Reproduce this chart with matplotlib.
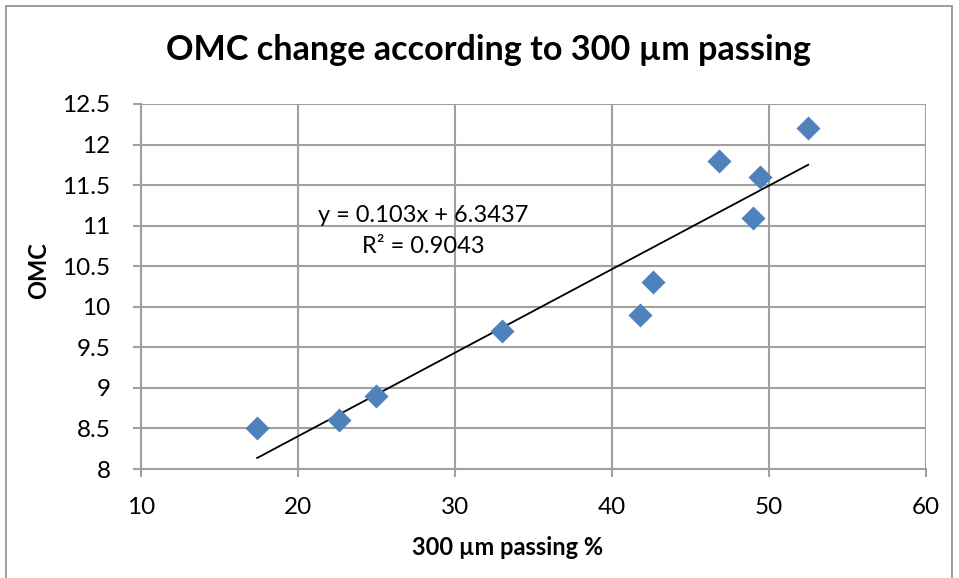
import matplotlib
matplotlib.use("Agg")
import matplotlib.pyplot as plt
from matplotlib.patches import Rectangle
import numpy as np

# sieve data: % passing 300 um vs optimum moisture content
passing = [17.4, 22.6, 25.0, 33.0, 41.8, 42.6, 46.8, 49.0, 49.4, 52.5]
omc = [8.5, 8.6, 8.9, 9.7, 9.9, 10.3, 11.8, 11.1, 11.6, 12.2]

# linear trend as reported on the chart
slope = 0.103
intercept = 6.3437
r2 = 0.9043

x_ticks = [10, 20, 30, 40, 50, 60]
y_ticks = [8, 8.5, 9, 9.5, 10, 10.5, 11, 11.5, 12, 12.5]

plt.rcParams['font.family'] = ['Lato', 'DejaVu Sans']
grid_col = '#a0a0a0'

dpi = 100
fig = plt.figure(figsize=(959 / dpi, 578 / dpi), dpi=dpi)
W, H = 959, 578
ax = fig.add_axes([141 / W, (H - 469) / H, (926 - 141) / W, (469 - 104) / H])

# outer chart frame
fig.patches.append(Rectangle((6 / W, -0.01), (952 - 6) / W, (H - 6) / H + 0.01,
                             transform=fig.transFigure, fill=False,
                             edgecolor='#8c8c8c', linewidth=1.2))

ax.scatter(passing, omc, marker='D', s=150, color='#4f81bd', zorder=3,
           linewidths=0)

xs = np.array([min(passing), max(passing)])
ax.plot(xs, slope * xs + intercept, color='black', linewidth=1.3, zorder=2)

ax.set_xlim(10, 60)
ax.set_ylim(8, 12.5)
ax.set_xticks(x_ticks)
ax.set_yticks(y_ticks)
ax.set_yticklabels([f'{v:g}' for v in y_ticks])
ax.grid(True, color=grid_col, linewidth=1.5)
ax.set_axisbelow(True)
for side in ('top', 'right'):
    ax.spines[side].set_visible(False)
for side in ('left', 'bottom'):
    ax.spines[side].set_color(grid_col)
    ax.spines[side].set_linewidth(1.5)
ax.tick_params(axis='both', colors=grid_col, length=6, width=1.5,
               labelsize=17.5, labelcolor='black')
ax.tick_params(axis='x', pad=14)
ax.tick_params(axis='y', pad=16)

ax.set_xlabel('300 µm passing %', fontsize=17, fontweight='bold', va='center')
ax.set_ylabel('OMC', fontsize=17, fontweight='bold', va='center')
ax.xaxis.set_label_coords(0.4675, -0.216)
ax.yaxis.set_label_coords(-0.131, 0.545)

ax.text(27.96, 11.13, f'y = {slope}x + {intercept}', fontsize=17,
        ha='center', va='center')
ax.text(27.96, 10.74, f'R² = {r2}', fontsize=17, ha='center', va='center')

fig.text(488 / W, (H - 50) / H, 'OMC change according to 300 µm passing',
         fontsize=24.6, fontweight='bold', ha='center', va='center')

fig.savefig('out.png', dpi=dpi)
